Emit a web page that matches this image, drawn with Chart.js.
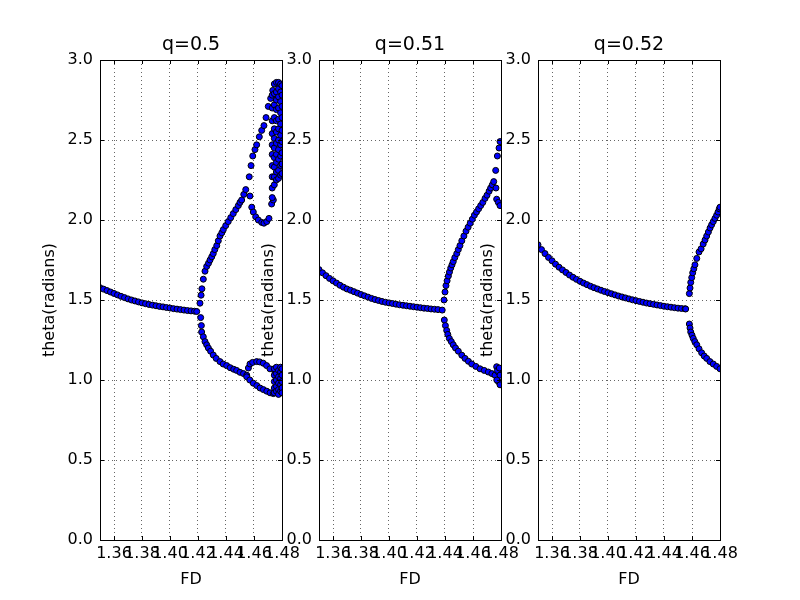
<!DOCTYPE html>
<html lang="en">
<head>
<meta charset="UTF-8">
<title>theta vs FD for three q values</title>
<script src="https://cdn.jsdelivr.net/npm/chart.js"></script>
<style>
  body { margin: 0; background: #fff; }
  .wrap { position: relative; width: 800px; height: 600px; }
  .wrap canvas { position: absolute; left: 0; top: 0; }
</style>
</head>
<body>
<div class="wrap">
  <canvas id="c1" width="800" height="600"></canvas>
  <canvas id="c2" width="800" height="600"></canvas>
  <canvas id="c3" width="800" height="600"></canvas>
</div>
<script>
// tick labels shared by the three panels
const xTicks = [1.36, 1.38, 1.40, 1.42, 1.44, 1.46, 1.48];
const yTicks = [0, 0.5, 1.0, 1.5, 2.0, 2.5, 3.0];
const titles = ['q=0.5', 'q=0.51', 'q=0.52'];

// q = 0.5
const fdQ1 = [
  // main branch
  1.3500, 1.3525, 1.3550, 1.3575, 1.3600, 1.3625, 1.3650, 1.3675, 1.3700, 1.3725,
  1.3750, 1.3775, 1.3800, 1.3825, 1.3850, 1.3875, 1.3900, 1.3925, 1.3950, 1.3975,
  1.4000, 1.4025, 1.4050, 1.4075, 1.4100, 1.4125, 1.4150, 1.4175, 1.4191,
  // upper branch
  1.4214, 1.4222, 1.4228, 1.4238, 1.4250, 1.4262, 1.4275, 1.4286, 1.4298, 1.4309,
  1.4320, 1.4334, 1.4345, 1.4357, 1.4370, 1.4381, 1.4398, 1.4416, 1.4434, 1.4452,
  1.4470, 1.4488, 1.4500, 1.4512, 1.4527, 1.4541,
  // upper split, top
  1.4566, 1.4579, 1.4591, 1.4607, 1.4619, 1.4638, 1.4655, 1.4671, 1.4686, 1.4702, 1.4719, 1.4734,
  // upper split, bottom
  1.4571, 1.4584, 1.4595, 1.4612, 1.4631, 1.4655, 1.4671, 1.4691, 1.4707, 1.4726, 1.4738,
  // lower branch
  1.4219, 1.4224, 1.4226, 1.4238, 1.4250, 1.4262, 1.4274, 1.4290, 1.4309, 1.4330,
  1.4357, 1.4380, 1.4405, 1.4430, 1.4455, 1.4476, 1.4500, 1.4525, 1.4548,
  // lower loop
  1.4560, 1.4571, 1.4590, 1.4619, 1.4640, 1.4666, 1.4690, 1.4714, 1.4750,
  1.4548, 1.4570, 1.4595, 1.4620, 1.4643, 1.4667, 1.4691, 1.4715, 1.4738,
  // chaotic band, top
  1.4730, 1.4730, 1.4730, 1.4730, 1.4730, 1.4730, 1.4730, 1.4730, 1.4730, 1.4730,
  1.4745, 1.4745, 1.4745, 1.4745, 1.4745, 1.4745, 1.4745, 1.4745, 1.4745, 1.4745, 1.4745,
  1.4760, 1.4760, 1.4760, 1.4760, 1.4760, 1.4760, 1.4760, 1.4760, 1.4760, 1.4760, 1.4760,
  1.4775, 1.4775, 1.4775, 1.4775, 1.4775, 1.4775, 1.4775, 1.4775, 1.4775, 1.4775, 1.4775,
  1.4790, 1.4790, 1.4790, 1.4790, 1.4790, 1.4790, 1.4790, 1.4790, 1.4790, 1.4790,
  1.4800, 1.4800, 1.4800, 1.4800, 1.4800, 1.4800, 1.4800, 1.4800, 1.4800,
  // chaotic band, bottom
  1.4745, 1.4745, 1.4745, 1.4745, 1.4745,
  1.4760, 1.4760, 1.4760, 1.4760, 1.4760,
  1.4775, 1.4775, 1.4775, 1.4775, 1.4775,
  1.4790, 1.4790, 1.4790, 1.4790, 1.4790,
  1.4800, 1.4800, 1.4800, 1.4800, 1.4800
];
const thetaQ1 = [
  1.577, 1.568, 1.559, 1.550, 1.541, 1.532, 1.523, 1.515, 1.507, 1.500,
  1.494, 1.488, 1.482, 1.477, 1.472, 1.468, 1.464, 1.460, 1.457, 1.453,
  1.450, 1.446, 1.443, 1.440, 1.437, 1.434, 1.432, 1.430, 1.428,
  1.48, 1.53, 1.57, 1.63, 1.68, 1.71, 1.73, 1.75, 1.77, 1.79,
  1.815, 1.84, 1.87, 1.90, 1.92, 1.94, 1.965, 1.99, 2.015, 2.04,
  2.065, 2.09, 2.11, 2.125, 2.16, 2.19,
  2.27, 2.34, 2.40, 2.44, 2.47, 2.52, 2.56, 2.59, 2.64, 2.71, 2.76, 2.81,
  2.15, 2.08, 2.05, 2.02, 2.00, 1.985, 1.98, 1.99, 2.01, 2.10, 2.125,
  1.39, 1.34, 1.30, 1.27, 1.24, 1.22, 1.20, 1.18, 1.156, 1.135,
  1.115, 1.10, 1.09, 1.077, 1.067, 1.06, 1.048, 1.04, 1.03,
  1.075, 1.10, 1.11, 1.115, 1.113, 1.105, 1.09, 1.07, 1.05,
  1.02, 1.00, 0.98, 0.965, 0.95, 0.94, 0.93, 0.92, 0.915,
  2.78, 2.70, 2.62, 2.54, 2.47, 2.41, 2.34, 2.27, 2.20, 2.14,
  2.85, 2.79, 2.72, 2.64, 2.57, 2.51, 2.45, 2.39, 2.33, 2.27, 2.22,
  2.86, 2.80, 2.75, 2.69, 2.62, 2.55, 2.48, 2.41, 2.36, 2.30, 2.25,
  2.86, 2.82, 2.77, 2.70, 2.63, 2.57, 2.50, 2.44, 2.38, 2.31, 2.26,
  2.85, 2.80, 2.74, 2.67, 2.60, 2.53, 2.47, 2.40, 2.34, 2.28,
  2.84, 2.78, 2.71, 2.64, 2.56, 2.49, 2.42, 2.35, 2.29,
  1.07, 1.03, 0.99, 0.95, 0.92,
  1.08, 1.04, 1.00, 0.96, 0.93,
  1.06, 1.02, 0.98, 0.94, 0.91,
  1.08, 1.05, 1.01, 0.97, 0.93,
  1.07, 1.03, 0.99, 0.95, 0.92
];

// q = 0.51
const fdQ2 = [
  1.3500, 1.3525, 1.3550, 1.3575, 1.3600, 1.3625, 1.3650, 1.3675, 1.3700, 1.3725,
  1.3750, 1.3775, 1.3800, 1.3825, 1.3850, 1.3875, 1.3900, 1.3925, 1.3950, 1.3975,
  1.4000, 1.4025, 1.4050, 1.4075, 1.4100, 1.4125, 1.4150, 1.4175, 1.4200, 1.4225,
  1.4250, 1.4275, 1.4300, 1.4325, 1.4350, 1.4380,
  // upper branch
  1.4393, 1.4400, 1.4407, 1.4415, 1.4424, 1.4432, 1.4441, 1.4450, 1.4459, 1.4470,
  1.4484, 1.4495, 1.4507, 1.4520, 1.4535, 1.4550, 1.4565, 1.4580, 1.4595, 1.4610,
  1.4625, 1.4640, 1.4655, 1.4670, 1.4686, 1.4700, 1.4715, 1.4726, 1.4738, 1.4748,
  1.4762, 1.4774, 1.4786, 1.4793,
  1.4764, 1.4769, 1.4781, 1.4793,
  // lower branch
  1.4395, 1.4403, 1.4412, 1.4420, 1.4431, 1.4445, 1.4459, 1.4475, 1.4495, 1.4520,
  1.4543, 1.4567, 1.4591, 1.4620, 1.4650, 1.4680, 1.4709, 1.4735, 1.4757,
  1.4769, 1.4781, 1.4781, 1.4793, 1.4775, 1.4788, 1.4793, 1.4770
];
const thetaQ2 = [
  1.690, 1.670, 1.652, 1.635, 1.620, 1.606, 1.592, 1.580, 1.569, 1.561,
  1.552, 1.543, 1.534, 1.526, 1.518, 1.510, 1.503, 1.497, 1.491, 1.486,
  1.482, 1.478, 1.474, 1.470, 1.467, 1.464, 1.461, 1.458, 1.455, 1.452,
  1.449, 1.447, 1.444, 1.442, 1.440, 1.437,
  1.50, 1.55, 1.59, 1.62, 1.65, 1.675, 1.70, 1.72, 1.74, 1.765,
  1.79, 1.815, 1.84, 1.87, 1.90, 1.93, 1.955, 1.98, 2.005, 2.03,
  2.05, 2.07, 2.09, 2.11, 2.135, 2.155, 2.18, 2.20, 2.22, 2.24,
  2.31, 2.40, 2.45, 2.49,
  2.20, 2.13, 2.11, 2.09,
  1.375, 1.34, 1.31, 1.285, 1.26, 1.24, 1.22, 1.20, 1.18, 1.155,
  1.135, 1.117, 1.10, 1.085, 1.07, 1.06, 1.05, 1.04, 1.03,
  1.083, 1.05, 0.99, 0.97, 1.06, 1.075, 1.03, 1.00
];

// q = 0.52
const fdQ3 = [
  1.3500, 1.3525, 1.3550, 1.3575, 1.3600, 1.3625, 1.3650, 1.3675, 1.3700, 1.3725,
  1.3750, 1.3775, 1.3800, 1.3825, 1.3850, 1.3875, 1.3900, 1.3925, 1.3950, 1.3975,
  1.4000, 1.4025, 1.4050, 1.4075, 1.4100, 1.4125, 1.4150, 1.4175, 1.4200, 1.4225,
  1.4250, 1.4275, 1.4300, 1.4325, 1.4350, 1.4375, 1.4400, 1.4425, 1.4450, 1.4475,
  1.4500, 1.4525, 1.4550, 1.4555,
  // upper branch
  1.4581, 1.4586, 1.4591, 1.4598, 1.4605, 1.4613, 1.4621, 1.4634, 1.4650, 1.4665,
  1.4680, 1.4693, 1.4705, 1.4717, 1.4729, 1.4740, 1.4752, 1.4764, 1.4776, 1.4786,
  1.4795, 1.4800,
  // lower branch
  1.4581, 1.4586, 1.4591, 1.4600, 1.4609, 1.4620, 1.4634, 1.4650, 1.4669, 1.4687,
  1.4705, 1.4728, 1.4752, 1.4776, 1.4800
];
const thetaQ3 = [
  1.845, 1.815, 1.790, 1.766, 1.745, 1.724, 1.705, 1.688, 1.672, 1.656,
  1.642, 1.629, 1.617, 1.606, 1.596, 1.586, 1.577, 1.569, 1.561, 1.553,
  1.546, 1.539, 1.532, 1.525, 1.519, 1.513, 1.507, 1.501, 1.496, 1.491,
  1.486, 1.481, 1.477, 1.473, 1.469, 1.465, 1.461, 1.458, 1.455, 1.452,
  1.449, 1.447, 1.445, 1.444,
  1.54, 1.575, 1.61, 1.64, 1.67, 1.695, 1.72, 1.76, 1.80, 1.82,
  1.85, 1.875, 1.90, 1.925, 1.95, 1.97, 1.99, 2.01, 2.03, 2.05,
  2.07, 2.08,
  1.35, 1.325, 1.30, 1.28, 1.26, 1.24, 1.22, 1.195, 1.17, 1.15,
  1.135, 1.115, 1.10, 1.085, 1.07
];

Chart.defaults.font.family = 'DejaVu Sans';
Chart.defaults.font.size = 16;
Chart.defaults.color = '#000';

// black frame plus matplotlib-style inward ticks on all four sides
const frameTicks = {
  id: 'frameTicks',
  afterDatasetsDraw(chart) {
    const { ctx, chartArea: a, scales: { x, y } } = chart;
    ctx.save();
    ctx.strokeStyle = '#000';
    ctx.lineWidth = 1;
    ctx.beginPath();
    xTicks.forEach(v => {
      const px = Math.round(x.getPixelForValue(v)) + 0.5;
      ctx.moveTo(px, a.bottom); ctx.lineTo(px, a.bottom - 4);
      ctx.moveTo(px, a.top); ctx.lineTo(px, a.top + 4);
    });
    yTicks.forEach(v => {
      const py = Math.round(y.getPixelForValue(v)) + 0.5;
      ctx.moveTo(a.left, py); ctx.lineTo(a.left + 4, py);
      ctx.moveTo(a.right, py); ctx.lineTo(a.right - 4, py);
    });
    ctx.stroke();
    ctx.strokeRect(a.left + 0.5, a.top + 0.5, a.right - a.left, a.bottom - a.top);
    ctx.restore();
  }
};

function makePanel(id, title, fd, theta, padLeft, padRight) {
  const points = fd.map((v, i) => ({ x: v, y: theta[i] }));
  return new Chart(document.getElementById(id), {
    type: 'scatter',
    data: {
      datasets: [{
        data: points,
        pointRadius: 3,
        pointBorderWidth: 1,
        pointBackgroundColor: '#0000ff',
        pointBorderColor: '#000',
        clip: 0
      }]
    },
    options: {
      responsive: false,
      animation: false,
      layout: { padding: { left: padLeft, right: padRight, top: 35, bottom: 10 } },
      plugins: {
        legend: { display: false },
        tooltip: { enabled: false },
        title: {
          display: true,
          text: title,
          fullSize: false,
          font: { size: 19, weight: 'normal', lineHeight: '21px' },
          padding: { top: 0, bottom: 4 }
        }
      },
      scales: {
        x: {
          type: 'linear',
          min: 1.35,
          max: 1.48,
          afterBuildTicks: axis => { axis.ticks = xTicks.map(v => ({ value: v })); },
          afterFit: axis => { axis.height = 50; },
          ticks: {
            autoSkip: false,
            maxRotation: 0,
            minRotation: 0,
            padding: 4,
            callback: v => v.toFixed(2)
          },
          grid: { color: 'rgba(0,0,0,0.6)', lineWidth: 1, drawTicks: false },
          border: { display: false, dash: [1, 3] },
          title: {
            display: true,
            text: 'FD',
            font: { size: 16, lineHeight: 1.25 },
            padding: { top: 0, bottom: 0 }
          }
        },
        y: {
          min: 0,
          max: 3,
          afterBuildTicks: axis => { axis.ticks = yTicks.map(v => ({ value: v })); },
          afterFit: axis => { axis.width = 60; },
          ticks: { padding: 7, callback: v => v.toFixed(1) },
          grid: { color: 'rgba(0,0,0,0.6)', lineWidth: 1, drawTicks: false },
          border: { display: false, dash: [1, 3] },
          title: {
            display: true,
            text: 'theta(radians)',
            font: { size: 16, lineHeight: 1.25 },
            padding: { top: 0, bottom: 0 }
          }
        }
      }
    },
    plugins: [frameTicks]
  });
}

makePanel('c1', titles[0], fdQ1, thetaQ1, 40, 518);
makePanel('c2', titles[1], fdQ2, thetaQ2, 259, 299);
makePanel('c3', titles[2], fdQ3, thetaQ3, 478, 80);
</script>
</body>
</html>
